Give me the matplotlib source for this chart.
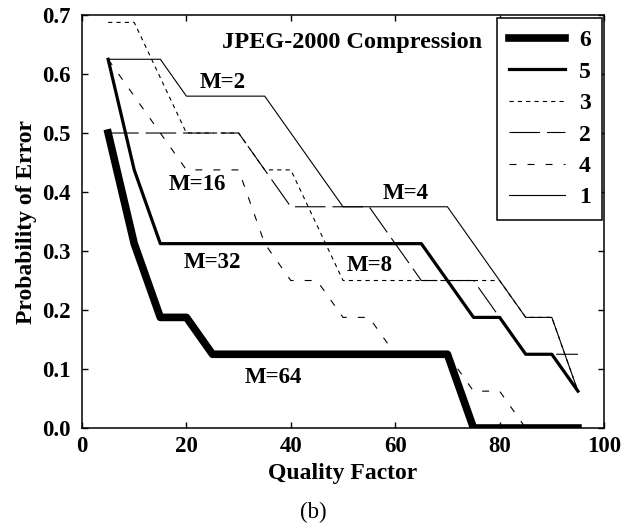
import matplotlib
matplotlib.use("Agg")
import matplotlib.pyplot as plt

plt.rcParams['font.family'] = ['Liberation Serif', 'DejaVu Serif']
plt.rcParams['lines.scale_dashes'] = False

# Quality factor (x) and probability of error for each M
quality = [5, 10, 15, 20, 25, 30, 35, 40, 45, 50, 55, 60, 65, 70, 75, 80, 85, 90, 95]

p_m2 = [0.625, 0.625, 0.625, 0.5625, 0.5625, 0.5625, 0.5625, 0.5, 0.4375, 0.375,
        0.375, 0.375, 0.375, 0.375, 0.3125, 0.25, 0.1875, 0.1875, 0.0625]
p_m4 = [0.5, 0.5, 0.5, 0.5, 0.5, 0.5, 0.4375, 0.375, 0.375, 0.375,
        0.375, 0.3125, 0.25, 0.25, 0.25, 0.1875, 0.125, 0.125, 0.125]
p_m8 = [0.6875, 0.6875, 0.59375, 0.5, 0.5, 0.5, 0.4375, 0.4375, 0.34375, 0.25,
        0.25, 0.25, 0.25, 0.25, 0.25, 0.25, 0.1875, 0.1875, 0.0625]
p_m16 = [0.625, 0.5625, 0.5, 0.4375, 0.4375, 0.4375, 0.3125, 0.25, 0.25, 0.1875,
         0.1875, 0.125, 0.125, 0.125, 0.0625, 0.0625, 0.0, 0.0, 0.0]
p_m32 = [0.625, 0.4375, 0.3125, 0.3125, 0.3125, 0.3125, 0.3125, 0.3125, 0.3125, 0.3125,
         0.3125, 0.3125, 0.3125, 0.25, 0.1875, 0.1875, 0.125, 0.125, 0.0625]
p_m64 = [0.5, 0.3125, 0.1875, 0.1875, 0.125, 0.125, 0.125, 0.125, 0.125, 0.125,
         0.125, 0.125, 0.125, 0.125, 0.0, 0.0, 0.0, 0.0, 0.0]

fig = plt.figure(figsize=(6.29, 5.29), dpi=100)
ax = fig.add_axes([0.1304, 0.1909, 0.8299, 0.7807])

# thin lines first, thick ones on top
l1, = ax.plot(quality, p_m2, color='black', lw=0.8, label='1')
l2, = ax.plot(quality, p_m4, color='black', lw=0.8, dashes=(22, 5), label='2')
l4, = ax.plot(quality, p_m16, color='black', lw=0.8, dashes=(5, 8), label='4')
l3, = ax.plot(quality, p_m8, color='black', lw=0.8, dashes=(3, 3), label='3')
l5, = ax.plot(quality, p_m32, color='black', lw=2.3, label='5')
l6, = ax.plot(quality, p_m64, color='black', lw=5.5, label='6')

ax.set_xlim(0, 100)
ax.set_ylim(0, 0.7)
ax.set_xticks([0, 20, 40, 60, 80, 100])
ax.set_yticks([0.0, 0.1, 0.2, 0.3, 0.4, 0.5, 0.6, 0.7])
ax.set_yticklabels(['0.0', '0.1', '0.2', '0.3', '0.4', '0.5', '0.6', '0.7'])
ax.tick_params(direction='in', length=4, width=1, top=True, right=True,
               labelsize=16.5)
ax.tick_params(axis='x', pad=6)
ax.tick_params(axis='y', pad=8)
for lab in ax.get_xticklabels() + ax.get_yticklabels():
    lab.set_fontweight('bold')
for s in ax.spines.values():
    s.set_linewidth(1.1)

ax.set_xlabel('Quality Factor', fontsize=17, fontweight='bold', labelpad=4)
ax.set_ylabel('Probability of Error', fontsize=17, fontweight='bold', labelpad=4)

# curve annotations
txt = dict(fontsize=16.5, fontweight='bold', ha='center', va='center')
ax.text(51.7, 0.654, 'JPEG-2000 Compression', fontsize=17.5, fontweight='bold',
        ha='center', va='center')
ax.text(27, 0.585, 'M=2', **txt)
ax.text(22, 0.412, 'M=16', **txt)
ax.text(25, 0.28, 'M=32', **txt)
ax.text(36.7, 0.085, 'M=64', **txt)
ax.text(55.2, 0.276, 'M=8', **txt)
ax.text(62, 0.398, 'M=4', **txt)

leg = ax.legend(handles=[l6, l5, l3, l2, l4, l1], loc='upper right',
                bbox_to_anchor=(0.997, 0.993), prop={'size': 17, 'weight': 'bold'},
                fancybox=False, framealpha=1, edgecolor='black',
                handlelength=2.35, handletextpad=0.6, labelspacing=0.42,
                borderpad=0.5, borderaxespad=0)
leg.get_frame().set_linewidth(1.1)

fig.text(0.4976, 0.032, '(b)', fontsize=16.5, ha='center', va='center')

fig.savefig('out.png', dpi=100)
